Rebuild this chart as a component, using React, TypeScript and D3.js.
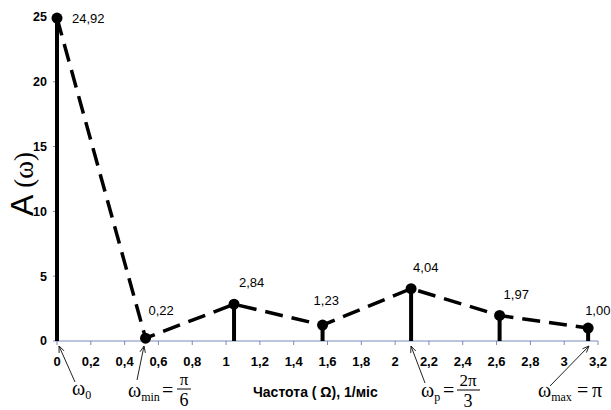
import React from "react";
import * as d3 from "d3";

const frequencies = [0, 0.5236, 1.0472, 1.5708, 2.0944, 2.618, 3.1416];
const amplitudes = [24.92, 0.22, 2.84, 1.23, 4.04, 1.97, 1.0];
const valueLabels = ["24,92", "0,22", "2,84", "1,23", "4,04", "1,97", "1,00"];
const labelDx = [15, 3, 5, -9, 2, 4, -3];
const labelDy = [5, -23, -17, -20, -17, -16, -13];

const xTickValues = [0, 0.2, 0.4, 0.6, 0.8, 1, 1.2, 1.4, 1.6, 1.8, 2, 2.2, 2.4, 2.6, 2.8, 3, 3.2];
const xTickLabels = ["0", "0,2", "0,4", "0,6", "0,8", "1", "1,2", "1,4", "1,6", "1,8", "2", "2,2", "2,4", "2,6", "2,8", "3", "3,2"];
const yTickValues = [0, 5, 10, 15, 20, 25];
const yTickLabels = ["0", "5", "10", "15", "20", "25"];

const W = 611;
const H = 410;
const axisColor = "#7b88bd";
const sans = "Arial, 'Liberation Sans', sans-serif";
const serif = "'Times New Roman', 'Liberation Serif', serif";

const x = d3.scaleLinear().domain([0, 3.2]).range([57, 598]);
const y = d3.scaleLinear().domain([0, 25]).range([341, 17]);

function Arrow({ x1, y1, x2, y2 }: { x1: number; y1: number; x2: number; y2: number }) {
  const ang = Math.atan2(y2 - y1, x2 - x1);
  const L = 7;
  const a1 = ang + Math.PI - 0.4;
  const a2 = ang + Math.PI + 0.4;
  return (
    <g stroke="#222" strokeWidth={1} fill="none">
      <line x1={x1} y1={y1} x2={x2} y2={y2} />
      <path d={`M${x2 + L * Math.cos(a1)},${y2 + L * Math.sin(a1)} L${x2},${y2} L${x2 + L * Math.cos(a2)},${y2 + L * Math.sin(a2)}`} />
    </g>
  );
}

export default function App() {
  const pts: [number, number][] = frequencies.map((f, i) => [x(f), y(amplitudes[i])]);
  const line = d3.line()(pts) || "";
  const y0 = y(0);
  return (
    <svg width={W} height={H} style={{ position: "absolute", left: 0, top: 0, background: "#fff" }}>
      <rect width={W} height={H} fill="#fff" />
      {/* axes */}
      <line x1={x(0)} y1={y(25)} x2={x(0)} y2={y0} stroke={axisColor} strokeWidth={1} />
      <line x1={x(0)} y1={y0} x2={x(3.2)} y2={y0} stroke={axisColor} strokeWidth={1} />
      {yTickValues.map((v, i) => (
        <g key={"yt" + i}>
          <line x1={x(0) - 4} x2={x(0)} y1={y(v)} y2={y(v)} stroke={axisColor} />
          <text x={47} y={y(v)} dy="0.35em" textAnchor="end" fontFamily={sans} fontWeight="bold" fontSize={12.5} fill="#000">
            {yTickLabels[i]}
          </text>
        </g>
      ))}
      {xTickValues.map((v, i) => (
        <g key={"xt" + i}>
          <line x1={x(v)} x2={x(v)} y1={y0} y2={y0 + 4} stroke={axisColor} />
          <text x={x(v)} y={366} textAnchor="middle" fontFamily={sans} fontWeight="bold" fontSize={13} fill="#000">
            {xTickLabels[i]}
          </text>
        </g>
      ))}
      {/* stems */}
      {pts.map(([px, py], i) => (
        <line key={"s" + i} x1={px} x2={px} y1={y0} y2={py} stroke="#000" strokeWidth={4} />
      ))}
      {/* dashed line */}
      <path d={line} fill="none" stroke="#000" strokeWidth={3.5} strokeDasharray="18,9" />
      {/* points */}
      {pts.map(([px, py], i) => (
        <circle key={"c" + i} cx={px} cy={py} r={5.5} fill="#000" />
      ))}
      {/* value labels */}
      {pts.map(([px, py], i) => (
        <text key={"l" + i} x={px + labelDx[i]} y={py + labelDy[i]} fontFamily={sans} fontSize={13} fill="#000">
          {valueLabels[i]}
        </text>
      ))}
      {/* y label */}
      <text transform="translate(33,216) rotate(-90)" fill="#000">
        <tspan fontFamily={sans} fontSize={32}>A</tspan>
        <tspan fontFamily={serif} fontSize={27} dx={7}>(ω)</tspan>
      </text>
      {/* x title */}
      <text x={253} y={397} fontFamily={sans} fontWeight="bold" fontSize={14} fill="#000">
        Частота ( Ω), 1/міс
      </text>
      {/* annotations */}
      <Arrow x1={75} y1={382} x2={59} y2={346} />
      <text x={72} y={395} fontFamily={serif} fontSize={20} fill="#000">
        ω<tspan fontSize={12} dy={4}>0</tspan>
      </text>

      <Arrow x1={137} y1={380} x2={144} y2={346} />
      <text x={128} y={397} fontFamily={serif} fontSize={20} fill="#000">
        ω<tspan fontSize={12} dy={4}>min</tspan>
      </text>
      <text x={162} y={397} fontFamily={serif} fontSize={20} fill="#000">=</text>
      <text x={184} y={385} textAnchor="middle" fontFamily={serif} fontSize={17} fill="#000">π</text>
      <line x1={177} x2={191} y1={389} y2={389} stroke="#000" strokeWidth={1} />
      <text x={184} y={406} textAnchor="middle" fontFamily={serif} fontSize={18} fill="#000">6</text>

      <Arrow x1={425} y1={383} x2={411} y2={346} />
      <text x={421} y={397} fontFamily={serif} fontSize={20} fill="#000">
        ω<tspan fontSize={12} dy={4}>p</tspan>
      </text>
      <text x={443} y={397} fontFamily={serif} fontSize={20} fill="#000">=</text>
      <text x={468} y={386} textAnchor="middle" fontFamily={serif} fontSize={17} fill="#000">2π</text>
      <line x1={457} x2={480} y1={390} y2={390} stroke="#000" strokeWidth={1} />
      <text x={468} y={407} textAnchor="middle" fontFamily={serif} fontSize={18} fill="#000">3</text>

      <Arrow x1={550} y1={386} x2={589} y2={346} />
      <text x={538} y={397} fontFamily={serif} fontSize={20} fill="#000">
        ω<tspan fontSize={12} dy={4}>max</tspan>
      </text>
      <text x={577} y={397} fontFamily={serif} fontSize={20} fill="#000">=</text>
      <text x={592} y={397} fontFamily={serif} fontSize={20} fill="#000">π</text>
    </svg>
  );
}
